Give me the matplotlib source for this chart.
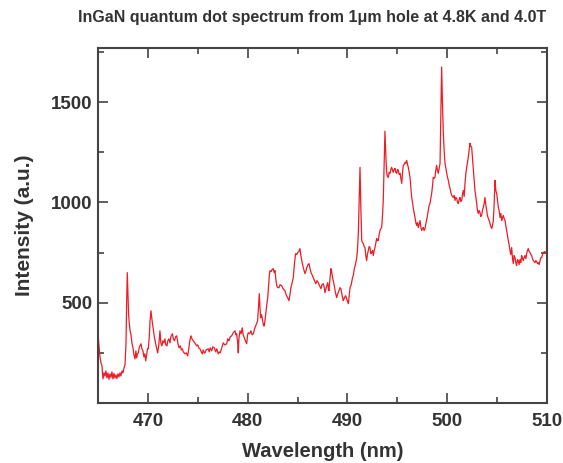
import matplotlib
matplotlib.use("Agg")
import matplotlib.pyplot as plt
from matplotlib.ticker import MultipleLocator

plt.rcParams["font.family"] = ["Liberation Sans", "DejaVu Sans"]

# spectrum (wavelength in nm, intensity in a.u.)
wavelength = [
    465.00, 465.10, 465.20, 465.30, 465.40, 465.50, 465.60, 465.70, 465.80, 465.90,
    466.00, 466.10, 466.20, 466.30, 466.40, 466.50, 466.60, 466.70, 466.80, 466.90,
    467.00, 467.10, 467.20, 467.30, 467.40, 467.50, 467.61, 467.71, 467.81, 467.88,
    467.94, 468.00, 468.07, 468.14, 468.22, 468.31, 468.40, 468.51, 468.60, 468.71,
    468.80, 468.88, 468.96, 469.04, 469.15, 469.31, 469.40, 469.51, 469.60, 469.70,
    469.78, 469.88, 469.96, 470.04, 470.14, 470.22, 470.31, 470.40, 470.54, 470.65,
    470.78, 470.90, 470.98, 471.10, 471.21, 471.30, 471.41, 471.50, 471.60, 471.71,
    471.80, 471.92, 472.00, 472.10, 472.22, 472.30, 472.45, 472.55, 472.67, 472.78,
    472.89, 473.00, 473.12, 473.25, 473.35, 473.45, 473.55, 473.72, 473.85, 473.99,
    474.10, 474.20, 474.32, 474.42, 474.55, 474.70, 474.89, 475.00, 475.10, 475.22,
    475.35, 475.45, 475.55, 475.65, 475.72, 475.85, 476.05, 476.15, 476.25, 476.40,
    476.50, 476.66, 476.80, 476.90, 477.06, 477.15, 477.25, 477.40, 477.56, 477.70,
    477.90, 478.00, 478.13, 478.25, 478.40, 478.55, 478.73, 478.82, 478.90, 479.00,
    479.06, 479.12, 479.23, 479.35, 479.46, 479.55, 479.66, 479.78, 479.90, 480.00,
    480.06, 480.20, 480.33, 480.45, 480.56, 480.65, 480.73, 480.85, 481.00, 481.08,
    481.17, 481.24, 481.31, 481.40, 481.50, 481.60, 481.67, 481.75, 481.84, 481.92,
    482.01, 482.10, 482.18, 482.24, 482.35, 482.45, 482.57, 482.66, 482.74, 482.82,
    482.91, 483.02, 483.14, 483.25, 483.41, 483.55, 483.74, 483.85, 484.01, 484.14,
    484.24, 484.34, 484.45, 484.57, 484.70, 484.81, 484.92, 485.01, 485.12, 485.24,
    485.35, 485.48, 485.60, 485.75, 485.85, 485.92, 486.05, 486.15, 486.25, 486.35,
    486.45, 486.58, 486.70, 486.82, 486.95, 487.08, 487.20, 487.35, 487.45, 487.58,
    487.68, 487.75, 487.90, 488.02, 488.10, 488.15, 488.25, 488.35, 488.42, 488.48,
    488.58, 488.68, 488.80, 488.92, 489.02, 489.15, 489.25, 489.35, 489.45, 489.58,
    489.70, 489.82, 489.95, 490.09, 490.18, 490.26, 490.38, 490.49, 490.60, 490.69,
    490.80, 490.93, 491.00, 491.09, 491.17, 491.26, 491.34, 491.43, 491.51, 491.59,
    491.68, 491.76, 491.85, 491.93, 492.00, 492.09, 492.18, 492.26, 492.35, 492.43,
    492.52, 492.59, 492.68, 492.76, 492.85, 492.93, 493.00, 493.09, 493.18, 493.26,
    493.35, 493.43, 493.52, 493.59, 493.68, 493.76, 493.85, 493.93, 494.00, 494.09,
    494.18, 494.26, 494.35, 494.43, 494.52, 494.59, 494.68, 494.77, 494.85, 494.94,
    495.02, 495.10, 495.18, 495.27, 495.36, 495.44, 495.52, 495.60, 495.68, 495.77,
    495.85, 495.94, 496.02, 496.10, 496.18, 496.27, 496.35, 496.44, 496.52, 496.60,
    496.68, 496.77, 496.85, 496.94, 497.02, 497.10, 497.18, 497.27, 497.35, 497.44,
    497.52, 497.60, 497.68, 497.77, 497.85, 497.94, 498.02, 498.10, 498.18, 498.27,
    498.35, 498.44, 498.52, 498.60, 498.68, 498.77, 498.85, 498.94, 499.02, 499.10,
    499.19, 499.28, 499.36, 499.44, 499.52, 499.61, 499.70, 499.78, 499.86, 499.95,
    500.03, 500.11, 500.20, 500.28, 500.36, 500.45, 500.53, 500.61, 500.70, 500.78,
    500.86, 500.95, 501.03, 501.11, 501.20, 501.28, 501.36, 501.45, 501.53, 501.61,
    501.70, 501.78, 501.86, 501.95, 502.03, 502.11, 502.20, 502.28, 502.36, 502.45,
    502.53, 502.61, 502.70, 502.78, 502.86, 502.95, 503.03, 503.11, 503.20, 503.28,
    503.36, 503.45, 503.53, 503.61, 503.70, 503.78, 503.86, 503.95, 504.03, 504.12,
    504.20, 504.29, 504.37, 504.46, 504.54, 504.62, 504.70, 504.79, 504.87, 504.96,
    505.04, 505.12, 505.20, 505.29, 505.37, 505.46, 505.54, 505.62, 505.70, 505.79,
    505.87, 505.96, 506.04, 506.12, 506.20, 506.29, 506.37, 506.46, 506.54, 506.62,
    506.70, 506.79, 506.87, 506.96, 507.04, 507.12, 507.20, 507.29, 507.37, 507.46,
    507.54, 507.62, 507.70, 507.79, 507.88, 507.96, 508.04, 508.12, 508.21, 508.30,
    508.38, 508.46, 508.54, 508.63, 508.71, 508.80, 508.88, 508.96, 509.05, 509.13,
    509.21, 509.30, 509.38, 509.46, 509.55, 509.63, 509.75, 509.87, 510.00,
]

intensity = [
    345, 290, 230, 200, 185, 120, 150, 135, 160, 125,
    150, 118, 145, 128, 155, 120, 148, 125, 140, 122,
    145, 130, 150, 135, 160, 150, 175, 190, 300, 520,
    650, 560, 440, 395, 360, 340, 300, 275, 240, 220,
    260, 225, 245, 250, 280, 295, 270, 260, 230, 245,
    210, 240, 270, 270, 330, 410, 460, 420, 370, 330,
    295, 270, 250, 290, 360, 300, 285, 310, 300, 320,
    290, 285, 310, 320, 300, 330, 345, 320, 310, 330,
    335, 300, 275, 285, 265, 270, 255, 245, 250, 235,
    270, 310, 335, 320, 310, 300, 285, 290, 275, 270,
    255, 245, 265, 250, 250, 265, 270, 255, 275, 260,
    280, 275, 255, 270, 245, 255, 250, 275, 300, 290,
    295, 320, 310, 330, 335, 350, 360, 340, 345, 300,
    250, 320, 360, 345, 375, 340, 325, 310, 295, 340,
    350, 345, 360, 340, 345, 360, 375, 390, 410, 470,
    545, 470, 425, 440, 410, 385, 385, 420, 460, 490,
    525, 590, 640, 660, 655, 665, 670, 650, 660, 620,
    585, 575, 575, 590, 585, 570, 560, 540, 525, 510,
    540, 575, 600, 625, 700, 745, 740, 750, 755, 770,
    730, 695, 670, 645, 660, 675, 690, 695, 670, 650,
    640, 625, 610, 595, 610, 600, 585, 570, 590, 595,
    575, 550, 580, 600, 570, 560, 620, 670, 655, 635,
    610, 585, 550, 525, 545, 560, 575, 570, 540, 510,
    525, 535, 515, 495, 540, 575, 590, 620, 640, 670,
    690, 725, 760, 845, 1000, 1175, 980, 810, 800, 795,
    780, 775, 730, 710, 740, 760, 780, 775, 745, 750,
    760, 735, 760, 775, 800, 820, 810, 810, 840, 860,
    870, 875, 940, 1010, 1200, 1355, 1230, 1150, 1130, 1125,
    1150, 1145, 1165, 1175, 1160, 1150, 1165, 1170, 1150, 1145,
    1165, 1160, 1140, 1145, 1120, 1095, 1150, 1185, 1190, 1200,
    1195, 1210, 1190, 1175, 1150, 1125, 1080, 1025, 1000, 970,
    950, 925, 900, 885, 900, 875, 890, 910, 880, 860,
    870, 875, 860, 870, 890, 910, 935, 960, 985, 995,
    1020, 1045, 1080, 1125, 1120, 1125, 1160, 1185, 1160, 1145,
    1170, 1195, 1450, 1675, 1500, 1345, 1250, 1195, 1170, 1145,
    1125, 1110, 1085, 1070, 1050, 1035, 1030, 1025, 1035, 1010,
    1025, 1020, 1000, 995, 1015, 1025, 1005, 1010, 1040, 1060,
    1030, 1095, 1140, 1175, 1200, 1225, 1260, 1295, 1280, 1275,
    1220, 1160, 1110, 1060, 1030, 995, 960, 945, 960, 950,
    930, 935, 960, 975, 995, 1025, 990, 960, 935, 920,
    910, 895, 880, 870, 885, 910, 990, 1110, 1060, 1045,
    1010, 975, 960, 925, 945, 910, 925, 935, 920, 910,
    885, 860, 830, 810, 790, 760, 740, 775, 720, 695,
    735, 725, 700, 685, 715, 710, 690, 715, 700, 735,
    720, 710, 725, 735, 720, 745, 760, 770, 755, 750,
    740, 735, 720, 710, 705, 700, 710, 705, 695, 700,
    690, 710, 725, 725, 740, 750, 755, 750, 760,
]

x_major = [470, 480, 490, 500, 510]
y_major = [500, 1000, 1500]

TEXT = "#333333"
AXIS = "#444444"

fig = plt.figure(figsize=(5.63, 4.63), dpi=100)
ax = fig.add_axes([0.174, 0.1296, 0.7976, 0.7667])

ax.plot(wavelength, intensity, color="#ee1c25", linewidth=0.9)

ax.set_xlim(465, 510)
ax.set_ylim(0, 1770)
ax.set_xticks(x_major)
ax.set_yticks(y_major)
ax.xaxis.set_minor_locator(MultipleLocator(5))
ax.yaxis.set_minor_locator(MultipleLocator(250))

ax.tick_params(which="both", direction="in", top=True, right=True,
               color=AXIS, width=1.2, labelsize=13.5, labelcolor=TEXT)
ax.tick_params(axis="x", pad=7)
ax.tick_params(axis="y", pad=4)
ax.tick_params(which="major", length=7)
ax.tick_params(which="minor", length=4)
for lbl in ax.get_xticklabels() + ax.get_yticklabels():
    lbl.set_fontweight("bold")

for spine in ax.spines.values():
    spine.set_color(AXIS)
    spine.set_linewidth(1.5)

ax.set_xlabel("Wavelength (nm)", fontsize=14.5, fontweight="bold", color=TEXT, labelpad=9)
ax.set_ylabel("Intensity (a.u.)", fontsize=15, fontweight="bold", color=TEXT, labelpad=12)
fig.text(0.555, 0.963, "InGaN quantum dot spectrum from 1\u03bcm hole at 4.8K and 4.0T",
         ha="center", va="center", fontsize=11.5, fontweight="bold", color=TEXT)

fig.savefig("out.png", dpi=100)
